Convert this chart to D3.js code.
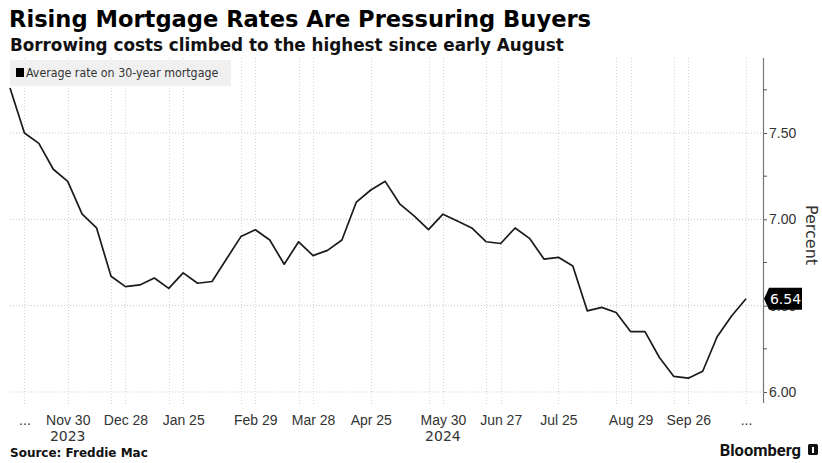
<!DOCTYPE html>
<html>
<head>
<meta charset="utf-8">
<script src="https://cdn.jsdelivr.net/npm/d3@7"></script>
<style>
  body { margin: 0; background: #fff; }
  svg { display: block; font-family: "DejaVu Sans", sans-serif; }
  .title { font-weight: bold; font-size: 22.6px; fill: #000; }
  .subtitle { font-weight: bold; font-size: 16.8px; fill: #111; }
  .tick text { font-size: 14px; fill: #333; }
  .legend { font-family: "DejaVu Sans Condensed", "DejaVu Sans", sans-serif; font-size: 12.3px; fill: #333; }
  .source { font-weight: bold; font-size: 12px; fill: #111; }
</style>
</head>
<body>
<svg width="822" height="463"></svg>
<script>
// weekly Freddie Mac 30-year fixed rate, Nov 2 2023 .. Oct 24 2024
var startDate = "2023-11-02";
var rates = [7.76, 7.50, 7.44, 7.29, 7.22, 7.03, 6.95, 6.67, 6.61, 6.62,
  6.66, 6.60, 6.69, 6.63, 6.64, 6.77, 6.90, 6.94, 6.88, 6.74,
  6.87, 6.79, 6.82, 6.88, 7.10, 7.17, 7.22, 7.09, 7.02, 6.94,
  7.03, 6.99, 6.95, 6.87, 6.86, 6.95, 6.89, 6.77, 6.78, 6.73,
  6.47, 6.49, 6.46, 6.35, 6.35, 6.20, 6.09, 6.08, 6.12, 6.32,
  6.44, 6.54];

var tickDates = ["2023-11-09", "2023-11-30", "2023-12-28", "2024-01-25", "2024-02-29", "2024-03-28",
  "2024-04-25", "2024-05-30", "2024-06-27", "2024-07-25", "2024-08-29", "2024-09-26", "2024-10-24"];
var tickLabels = ["...", "Nov 30", "Dec 28", "Jan 25", "Feb 29", "Mar 28",
  "Apr 25", "May 30", "Jun 27", "Jul 25", "Aug 29", "Sep 26", "..."];
var yearLabels = [["2023-11-30", "2023"], ["2024-05-30", "2024"]];
// extra faint grid lines a week before some ticks
var minorGrid = ["2023-12-21", "2024-01-18", "2024-02-22", "2024-03-21", "2024-05-23",
  "2024-06-20", "2024-08-22", "2024-09-19"];
var yTicks = [6.0, 6.5, 7.0, 7.5];
var yMinor = [6.25, 6.75, 7.25, 7.75];

var parse = d3.timeParse("%Y-%m-%d");
var t0 = parse(startDate);
var data = rates.map(function(v, i) {
  return { date: d3.timeDay.offset(t0, i * 7), value: v };
});

var svg = d3.select("svg");
var x = d3.scaleTime().domain([data[0].date, data[data.length - 1].date]).range([10, 746]);
var y = d3.scaleLinear().domain([6.0, 7.5]).range([392, 133]);
var axisX = 763;

// titles
svg.append("text").attr("class", "title").attr("x", 9).attr("y", 27)
  .text("Rising Mortgage Rates Are Pressuring Buyers");
svg.append("text").attr("class", "subtitle").attr("x", 10).attr("y", 51)
  .text("Borrowing costs climbed to the highest since early August");

// grid
var grid = svg.append("g");
grid.selectAll(".hg").data(yTicks).enter().append("line")
  .attr("x1", 10).attr("x2", axisX)
  .attr("y1", function(d) { return y(d); }).attr("y2", function(d) { return y(d); })
  .attr("stroke", "#c8c8c8").attr("stroke-dasharray", "1,2");
grid.selectAll(".vg").data(tickDates.concat(minorGrid)).enter().append("line")
  .attr("x1", function(d) { return Math.round(x(parse(d))) + 0.5; })
  .attr("x2", function(d) { return Math.round(x(parse(d))) + 0.5; })
  .attr("y1", 58).attr("y2", 405)
  .attr("stroke", "#d4d4d4").attr("stroke-dasharray", "1,2");

// legend
svg.append("rect").attr("x", 10).attr("y", 60).attr("width", 221).attr("height", 26).attr("fill", "#f0f0f0");
svg.append("rect").attr("x", 16).attr("y", 68).attr("width", 8).attr("height", 9).attr("fill", "#000");
svg.append("text").attr("class", "legend").attr("x", 26).attr("y", 77)
  .text("Average rate on 30-year mortgage");

// line
var line = d3.line().x(function(d) { return x(d.date); }).y(function(d) { return y(d.value); });
svg.append("path").datum(data).attr("d", line)
  .attr("fill", "none").attr("stroke", "#1a1a1a").attr("stroke-width", 1.7).attr("stroke-linejoin", "round");

// x axis
var xa = svg.append("g").attr("transform", "translate(0,408)")
  .call(d3.axisBottom(x).tickValues(tickDates.map(parse)).tickSize(0).tickPadding(7)
    .tickFormat(function(d, i) { return tickLabels[i]; }));
xa.select(".domain").remove();
xa.selectAll("text").attr("fill", "#333");
svg.selectAll(".year").data(yearLabels).enter().append("text")
  .attr("x", function(d) { return x(parse(d[0])); }).attr("y", 441)
  .attr("text-anchor", "middle").style("font-size", "14px").attr("fill", "#333")
  .text(function(d) { return d[1]; });

// y axis on the right
var ya = svg.append("g").attr("transform", "translate(" + axisX + ",0)")
  .call(d3.axisRight(y).tickValues(yTicks).tickSize(4).tickPadding(2).tickFormat(d3.format(".2f")));
ya.select(".domain").remove();
ya.selectAll("line").attr("stroke", "#555");
ya.selectAll("text").attr("fill", "#333");
svg.append("line").attr("x1", axisX + 0.5).attr("x2", axisX + 0.5).attr("y1", 58).attr("y2", 403)
  .attr("stroke", "#777").attr("stroke-width", 1.2);
svg.selectAll(".ym").data(yMinor).enter().append("line")
  .attr("x1", axisX).attr("x2", axisX + 4)
  .attr("y1", function(d) { return y(d); }).attr("y2", function(d) { return y(d); })
  .attr("stroke", "#555");
svg.append("text").attr("transform", "translate(806,235) rotate(90)")
  .attr("text-anchor", "middle").style("font-size", "16px").attr("fill", "#333").text("Percent");

// last value tag
var last = data[data.length - 1];
var ty = y(last.value);
svg.append("path")
  .attr("d", "M" + (axisX + 1) + "," + ty + " L" + (axisX + 6) + "," + (ty - 11) + " H" + (axisX + 39)
    + " V" + (ty + 11) + " H" + (axisX + 6) + " Z")
  .attr("fill", "#000");
svg.append("text").attr("x", axisX + 22.5).attr("y", ty + 5).attr("text-anchor", "middle")
  .style("font-size", "14px").attr("fill", "#fff").text(last.value.toFixed(2));

// footer
svg.append("text").attr("class", "source").attr("x", 10).attr("y", 457).text("Source: Freddie Mac");
svg.append("text").attr("x", 801).attr("y", 456).attr("text-anchor", "end")
  .style("font-family", "Roboto, 'DejaVu Sans', sans-serif").style("font-weight", "bold")
  .style("font-size", "16.5px").attr("fill", "#111").text("Bloomberg");
svg.append("rect").attr("x", 808).attr("y", 444).attr("width", 10).attr("height", 11).attr("rx", 1.5).attr("fill", "#111");
svg.append("rect").attr("x", 812).attr("y", 447).attr("width", 2).attr("height", 6).attr("fill", "#fff");
</script>
</body>
</html>
